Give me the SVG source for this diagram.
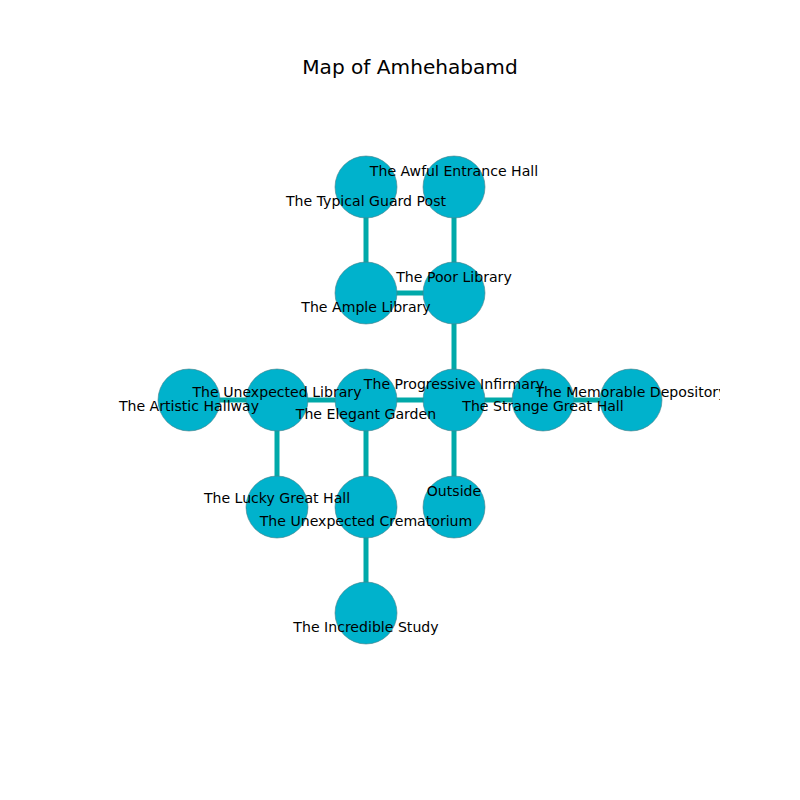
<svg xmlns="http://www.w3.org/2000/svg" width="800" height="800" viewBox="0 0 800 800">
<style>
.e{stroke:#00a9a9;stroke-width:5;fill:none}
.n{fill:#00b2cc;stroke:#4a7f88;stroke-width:0.6}
.t{font-family:"DejaVu Sans",sans-serif;font-size:14.1px;fill:#000;text-anchor:middle;dominant-baseline:central}
.title{font-family:"DejaVu Sans",sans-serif;font-size:20.1px;fill:#000;text-anchor:middle;dominant-baseline:central}
</style>
<defs><clipPath id="ax"><rect x="80" y="96" width="640" height="608"/></clipPath></defs>
<rect width="800" height="800" fill="#fff"/>
<text class="title" x="410" y="67">Map of Amhehabamd</text>
<g id="connectors">
<line class="e" x1="366" y1="187" x2="366" y2="293"/>
<line class="e" x1="454" y1="187" x2="454" y2="293"/>
<line class="e" x1="366" y1="293" x2="454" y2="293"/>
<line class="e" x1="454" y1="293" x2="454" y2="400"/>
<line class="e" x1="189" y1="400" x2="631" y2="400"/>
<line class="e" x1="277" y1="400" x2="277" y2="507"/>
<line class="e" x1="366" y1="400" x2="366" y2="613"/>
<line class="e" x1="454" y1="400" x2="454" y2="507"/>
</g>
<g id="nodes" clip-path="url(#ax)">
<g id="typical-guard-post"><circle class="n" cx="366" cy="187" r="31"/></g>
<g id="awful-entrance-hall"><circle class="n" cx="454" cy="187" r="31"/></g>
<g id="ample-library"><circle class="n" cx="366" cy="293" r="31"/></g>
<g id="poor-library"><circle class="n" cx="454" cy="293" r="31"/></g>
<g id="artistic-hallway"><circle class="n" cx="189" cy="400" r="31"/></g>
<g id="unexpected-library"><circle class="n" cx="277" cy="400" r="31"/></g>
<g id="elegant-garden"><circle class="n" cx="366" cy="400" r="31"/></g>
<g id="progressive-infirmary"><circle class="n" cx="454" cy="400" r="31"/></g>
<g id="strange-great-hall"><circle class="n" cx="543" cy="400" r="31"/></g>
<g id="memorable-depository"><circle class="n" cx="631" cy="400" r="31"/></g>
<g id="lucky-great-hall"><circle class="n" cx="277" cy="507" r="31"/></g>
<g id="unexpected-crematorium"><circle class="n" cx="366" cy="507" r="31"/></g>
<g id="outside"><circle class="n" cx="454" cy="507" r="31"/></g>
<g id="incredible-study"><circle class="n" cx="366" cy="613" r="31"/></g>
</g>
<g id="labels" clip-path="url(#ax)">
<text class="t" x="366" y="201">The Typical Guard Post</text>
<text class="t" x="454" y="171">The Awful Entrance Hall</text>
<text class="t" x="366" y="307">The Ample Library</text>
<text class="t" x="454" y="277">The Poor Library</text>
<text class="t" x="189" y="406">The Artistic Hallway</text>
<text class="t" x="277" y="392">The Unexpected Library</text>
<text class="t" x="366" y="414">The Elegant Garden</text>
<text class="t" x="454" y="384">The Progressive Infirmary</text>
<text class="t" x="543" y="406">The Strange Great Hall</text>
<text class="t" x="631" y="392">The Memorable Depository</text>
<text class="t" x="277" y="498">The Lucky Great Hall</text>
<text class="t" x="366" y="521">The Unexpected Crematorium</text>
<text class="t" x="454" y="491">Outside</text>
<text class="t" x="366" y="627">The Incredible Study</text>
</g>
</svg>
